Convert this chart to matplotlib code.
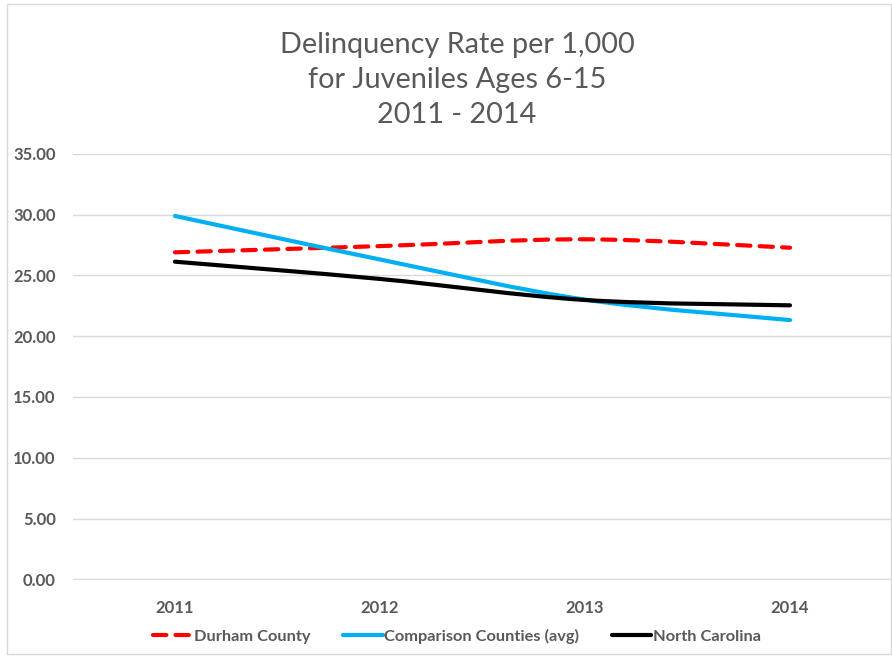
import matplotlib
matplotlib.use("Agg")
import matplotlib.pyplot as plt
from matplotlib.path import Path
from matplotlib.patches import PathPatch, Rectangle
from matplotlib.lines import Line2D
import numpy as np

years = ["2011", "2012", "2013", "2014"]
durham = [26.89, 27.40, 27.96, 27.27]
comparison = [29.88, 26.30, 23.00, 21.32]
north_carolina = [26.12, 24.70, 22.97, 22.53]

series_names = ["Durham County", "Comparison Counties (avg)", "North Carolina"]
title_lines = ["Delinquency Rate per 1,000", "for Juveniles Ages 6-15", "2011 - 2014"]
yticks = [0, 5, 10, 15, 20, 25, 30, 35]

plt.rcParams['font.family'] = ['Lato', 'DejaVu Sans']
gray = '#595959'

fig = plt.figure(figsize=(8.92, 6.56), dpi=100)
ax = fig.add_axes([72.5/892, (656-579.3)/656, 820/892, (579.3-153.7)/656])

def smooth_path(xs, ys):
    xs = np.asarray(xs, float); ys = np.asarray(ys, float)
    n = len(xs)
    verts = [(xs[0], ys[0])]
    codes = [Path.MOVETO]
    for i in range(n - 1):
        i0 = max(i - 1, 0); i3 = min(i + 2, n - 1)
        c1 = (xs[i] + (xs[i+1] - xs[i0]) / 6, ys[i] + (ys[i+1] - ys[i0]) / 6)
        c2 = (xs[i+1] - (xs[i3] - xs[i]) / 6, ys[i+1] - (ys[i3] - ys[i]) / 6)
        verts += [c1, c2, (xs[i+1], ys[i+1])]
        codes += [Path.CURVE4] * 3
    return Path(verts, codes)

x = np.arange(len(years))
styles = [
    dict(color='#FF0000', ls=(0, (3.2, 2.2))),
    dict(color='#00B0F0', ls='-'),
    dict(color='#000000', ls='-'),
]
lw = 3.0
for vals, st in zip([durham, comparison, north_carolina], styles):
    p = PathPatch(smooth_path(x, vals), facecolor='none', edgecolor=st['color'],
                  lw=lw, linestyle=st['ls'], capstyle='round', joinstyle='round', zorder=3)
    ax.add_patch(p)

ax.set_xlim(-0.5, len(years) - 0.5)
ax.set_ylim(0, 35)
ax.set_yticks(yticks)
ax.set_yticklabels([f"{v:.2f}" for v in yticks], fontsize=12, fontweight='bold', color=gray)
ax.set_xticks(x)
ax.set_xticklabels(years, fontsize=12, fontweight='bold', color=gray)
ax.tick_params(axis='y', length=0, pad=12)
ax.tick_params(axis='x', length=0, pad=15)
ax.grid(axis='y', color='#D9D9D9', lw=1)
ax.set_axisbelow(True)
for s in ['top', 'right', 'left']:
    ax.spines[s].set_visible(False)
ax.spines['bottom'].set_color('#D9D9D9')

handles = [Line2D([], [], color=st['color'], lw=lw, linestyle=st['ls'],
                  solid_capstyle='round', dash_capstyle='round') for st in styles]
leg = fig.legend(handles, series_names, loc='center', bbox_to_anchor=(457/892, 1 - 636/656),
                 ncol=3, frameon=False, handlelength=2.4, handletextpad=0.1, columnspacing=2.0,
                 prop=dict(size=11.8, weight='bold'))
for t in leg.get_texts():
    t.set_color(gray)

for i, line in enumerate(title_lines):
    fig.text(457/892, 1 - (45 + 35*i)/656, line, ha='center', va='center', fontsize=20.8, color=gray)

fig.patches.append(Rectangle((7/892, 2/656), 884/892, 650/656, transform=fig.transFigure,
                             fill=False, edgecolor='#D9D9D9', lw=1))

fig.savefig("out.png", dpi=100)
